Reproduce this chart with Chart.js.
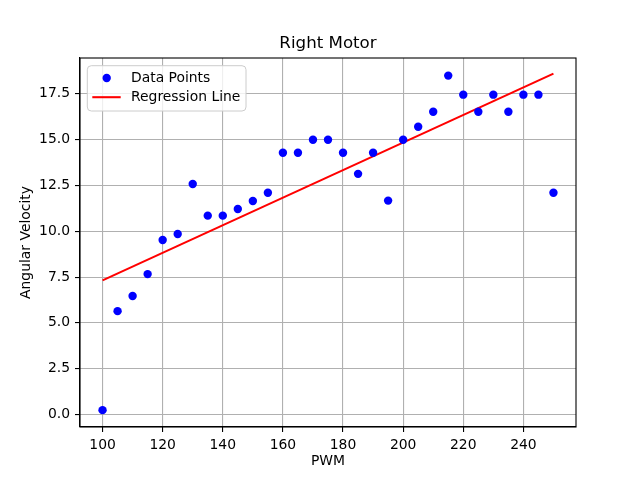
<!DOCTYPE html>
<html>
<head>
<meta charset="utf-8">
<script src="https://cdn.jsdelivr.net/npm/chart.js@4"></script>
<style>
  html, body { margin:0; padding:0; background:#fff; }
  #wrap { width:640px; height:480px; }
</style>
</head>
<body>
<div id="wrap"><canvas id="chart" width="640" height="480"></canvas></div>
<script>
  const pwm = [100,105,110,115,120,125,130,135,140,145,150,155,160,165,170,175,180,185,190,195,200,205,210,215,220,225,230,235,240,245,250];
  const angVel = [0.24,5.64,6.47,7.66,9.52,9.85,12.58,10.85,10.85,11.21,11.65,12.1,14.28,14.28,14.99,14.99,14.28,13.13,14.28,11.67,14.99,15.7,16.52,18.49,17.45,16.52,17.45,16.52,17.45,17.45,12.1];
  // regression line end points
  const fitX = [100, 250];
  const fitY = [7.32, 18.6];

  const xTicks = [100,120,140,160,180,200,220,240];
  const yTicks = [0,2.5,5,7.5,10,12.5,15,17.5];

  const FONT = "'DejaVu Sans', sans-serif";

  // matplotlib-ish legend drawn inside the axes, upper left
  const innerLegend = {
    id:"innerLegend",
    afterDatasetsDraw(chart){
      const {ctx, chartArea:a} = chart;
      const ds = chart.data.datasets;
      const x = a.left + 7.3, y = a.top + 7.7, w = 158.7, h = 45.3, r = 4;
      ctx.save();
      ctx.beginPath();
      ctx.roundRect(x, y, w, h, r);
      ctx.fillStyle = "rgba(255,255,255,0.8)";
      ctx.fill();
      ctx.strokeStyle = "#cccccc";
      ctx.lineWidth = 1;
      ctx.stroke();

      ctx.font = "13.9px " + FONT;
      ctx.textBaseline = "middle";
      ctx.textAlign = "left";
      const rows = [y + 12.3, y + 31.5];
      // scatter marker
      ctx.beginPath();
      ctx.arc(a.left + 26.7, rows[0], 4.2, 0, Math.PI*2);
      ctx.fillStyle = ds[0].backgroundColor;
      ctx.fill();
      // line marker
      ctx.beginPath();
      ctx.moveTo(a.left + 12.3, rows[1]);
      ctx.lineTo(a.left + 40.7, rows[1]);
      ctx.strokeStyle = ds[1].borderColor;
      ctx.lineWidth = 2.08;
      ctx.stroke();

      ctx.fillStyle = "#000";
      ctx.fillText(ds[0].label, a.left + 51, rows[0]);
      ctx.fillText(ds[1].label, a.left + 51, rows[1]);
      ctx.restore();
    }
  };

  // top/right spines
  const frame = {
    id:"frame",
    afterDraw(chart){
      const {ctx, chartArea:a} = chart;
      ctx.save();
      ctx.strokeStyle = "#000";
      ctx.lineWidth = 1.1;
      ctx.strokeRect(a.left, a.top, a.right - a.left, a.bottom - a.top);
      ctx.restore();
    }
  };

  new Chart(document.getElementById("chart"), {
    type:"scatter",
    data:{
      datasets:[
        { label:"Data Points", data: pwm.map((p,i)=>({x:p, y:angVel[i]})),
          backgroundColor:"#0000ff", borderColor:"#0000ff", pointRadius:4.2, pointBorderWidth:0, order:1 },
        { label:"Regression Line", data: fitX.map((p,i)=>({x:p, y:fitY[i]})), showLine:true,
          borderColor:"#ff0000", backgroundColor:"#ff0000", borderWidth:2.08, pointRadius:0, order:2 }
      ]
    },
    options:{
      responsive:false, animation:false,
      layout:{ padding:{ left:0, right:64, top:0, bottom:0 } },
      plugins:{
        legend:{ display:false },
        tooltip:{ enabled:false },
        title:{ display:true, text:"Right Motor", fullSize:false, color:"#000",
          font:{ family:FONT, size:16.67, weight:"normal" }, padding:{ top:34, bottom:4 } }
      },
      scales:{
        x:{
          type:"linear", min:92.5, max:257.5,
          afterBuildTicks: s => { s.ticks = xTicks.map(v=>({value:v})); },
          afterFit: s => { s.height = 53; },
          grid:{ color:"#b0b0b0", lineWidth:1.1, tickColor:"#000", tickLength:5, drawTicks:true },
          border:{ color:"#000", width:1.1 },
          ticks:{ color:"#000", padding:5, maxRotation:0, font:{ family:FONT, size:13.9 } },
          title:{ display:true, text:"PWM", color:"#000", font:{ family:FONT, size:13.9 }, padding:{ top:0, bottom:10 } }
        },
        y:{
          type:"linear", min:-0.68, max:19.45,
          afterBuildTicks: s => { s.ticks = yTicks.map(v=>({value:v})); },
          afterFit: s => { s.width = 80; },
          grid:{ color:"#b0b0b0", lineWidth:1.1, tickColor:"#000", tickLength:5, drawTicks:true },
          border:{ color:"#000", width:1.1 },
          ticks:{ color:"#000", padding:5, font:{ family:FONT, size:13.9 }, callback: v => Number(v).toFixed(1) },
          title:{ display:true, text:"Angular Velocity", color:"#000", font:{ family:FONT, size:13.9 }, padding:{ top:18.5, bottom:0 } }
        }
      }
    },
    plugins:[innerLegend, frame]
  });
</script>
</body>
</html>
